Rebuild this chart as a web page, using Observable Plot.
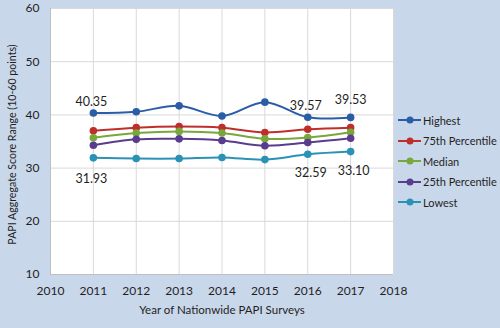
<!DOCTYPE html>
<html><head><meta charset="utf-8">
<script src="https://cdn.jsdelivr.net/npm/d3@7"></script>
<script src="https://cdn.jsdelivr.net/npm/@observablehq/plot@0.6"></script>
<style>
html,body{margin:0;padding:0;background:#c9d7ea;}
#wrap{position:relative;width:500px;height:328px;background:#c9d7ea;font-family:Lato,"Open Sans",sans-serif;color:#1f1f1f;overflow:hidden;}
#chart svg{display:block;}
#legend{position:absolute;left:398px;top:110px;font-size:11px;white-space:nowrap;}
#legend .item{display:flex;align-items:center;height:20.5px;}
#legend svg{margin-right:1px;flex:none;}
</style></head><body>
<div id="wrap"><div id="chart"></div><div id="legend"></div></div>
<script>
const years = [2011, 2012, 2013, 2014, 2015, 2016, 2017];
const seriesNames = ["Highest", "75th Percentile", "Median", "25th Percentile", "Lowest"];
const seriesColors = ["#2b5da6", "#be2f2c", "#78a83c", "#5a3c8e", "#2a92b4"];
const highest = [40.35, 40.6, 41.7, 39.8, 42.4, 39.57, 39.53];
const p75 = [37.0, 37.6, 37.8, 37.6, 36.7, 37.3, 37.6];
const median = [35.7, 36.6, 36.9, 36.6, 35.5, 35.75, 36.75];
const p25 = [34.3, 35.4, 35.5, 35.2, 34.2, 34.8, 35.6];
const lowest = [31.93, 31.8, 31.8, 32.0, 31.6, 32.59, 33.10];
const xTicks = [2010, 2011, 2012, 2013, 2014, 2015, 2016, 2017, 2018];
const yTicks = [10, 20, 30, 40, 50, 60];
const labelYearsHigh = [2011, 2016];
const labelYearsHigh2 = [2017];
const labelYearsLow = [2011];
const labelYearsLow2 = [2016, 2017];

const allSeries = [highest, p75, median, p25, lowest];
const data = [];
allSeries.forEach((vals, si) => years.forEach((yr, i) => data.push({series: seriesNames[si], year: yr, value: vals[i]})));
const fmt = v => v.toFixed(2);
const pick = (name, ys) => data.filter(d => d.series === name && ys.includes(d.year));
const ink = "#1f1f1f";

const chart = Plot.plot({
  width: 500, height: 328,
  marginLeft: 50, marginRight: 107, marginTop: 8, marginBottom: 54,
  style: {background: "transparent", fontFamily: "Lato, 'Open Sans', sans-serif", fontSize: "12px", color: ink},
  x: {domain: [2010, 2018], ticks: xTicks, tickFormat: d => String(d), tickSize: 0, tickPadding: 12, label: null},
  y: {domain: [10, 60], ticks: yTicks, tickSize: 0, tickPadding: 11, label: null},
  color: {domain: seriesNames, range: seriesColors},
  marks: [
    Plot.frame({fill: "white", stroke: null}),
    Plot.gridX(xTicks, {stroke: "#d9d9d9", strokeOpacity: 1, strokeWidth: 1}),
    Plot.gridY(yTicks, {stroke: "#d9d9d9", strokeOpacity: 1, strokeWidth: 1}),
    Plot.ruleX([2010], {stroke: "#bfbfbf"}),
    Plot.ruleY([10], {stroke: "#bfbfbf"}),
    Plot.axisX({ticks: xTicks, tickFormat: d => String(d), tickSize: 0, tickPadding: 12, label: null, fontSize: 12, fill: ink}),
    Plot.axisY({ticks: yTicks, tickSize: 0, tickPadding: 11, label: null, fontSize: 12, fill: ink}),
    Plot.text(["Year of Nationwide PAPI Surveys"], {frameAnchor: "bottom", dy: 39, fontSize: 11.5, fill: ink}),
    Plot.text(["PAPI Aggregate Score Range (10-60 points)"], {frameAnchor: "left", dx: -38, dy: 3, rotate: -90, textAnchor: "middle", fontSize: 10.6, fill: ink}),
    Plot.line(data, {x: "year", y: "value", z: "series", stroke: "series", strokeWidth: 2, curve: "catmull-rom"}),
    Plot.dot(data, {x: "year", y: "value", fill: "series", r: 3.8}),
    Plot.text(pick("Highest", labelYearsHigh), {x: "year", y: "value", text: d => fmt(d.value), dy: -11, dx: -2, fontSize: 12.5, fill: ink}),
    Plot.text(pick("Highest", labelYearsHigh2), {x: "year", y: "value", text: d => fmt(d.value), dy: -17, fontSize: 12.5, fill: ink}),
    Plot.text(pick("Lowest", labelYearsLow), {x: "year", y: "value", text: d => fmt(d.value), dy: 21, dx: -2, fontSize: 12.5, fill: ink}),
    Plot.text(pick("Lowest", labelYearsLow2), {x: "year", y: "value", text: d => fmt(d.value), dy: 19, dx: 3, fontSize: 12.5, fill: ink})
  ]
});
document.getElementById("chart").appendChild(chart);

const legend = d3.select("#legend");
seriesNames.forEach((name, i) => {
  const item = legend.append("div").attr("class", "item");
  const s = item.append("svg").attr("width", 24).attr("height", 10);
  s.append("line").attr("x1", 0).attr("x2", 23).attr("y1", 5).attr("y2", 5).attr("stroke", seriesColors[i]).attr("stroke-width", 2);
  s.append("circle").attr("cx", 12).attr("cy", 5).attr("r", 3.5).attr("fill", seriesColors[i]);
  item.append("span").text(name);
});
</script>
</body></html>
